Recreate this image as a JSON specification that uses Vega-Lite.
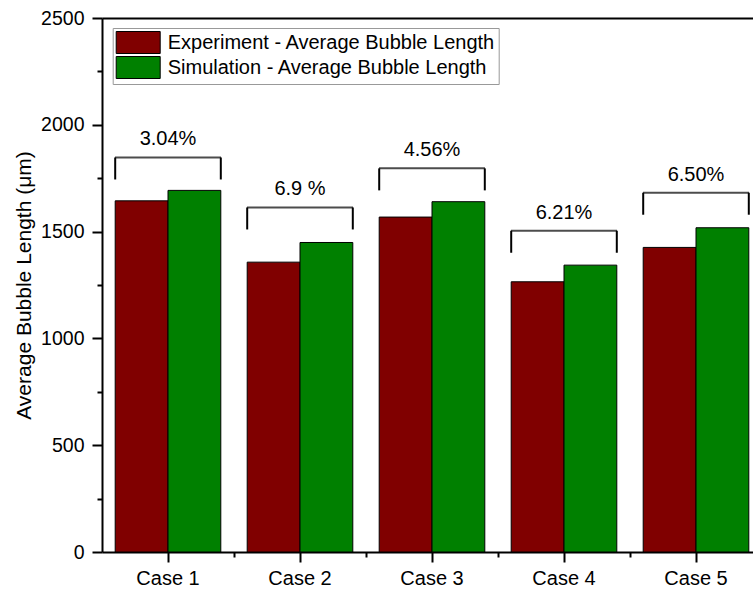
{
  "$schema": "https://vega.github.io/schema/vega-lite/v6.json",
  "width": 651,
  "height": 534,
  "autosize": {"type": "none"},
  "padding": {"left": 102, "top": 18, "right": 0, "bottom": 38},
  "config": {
    "font": "Liberation Sans",
    "view": {"stroke": null},
    "axis": {
      "domainColor": "black",
      "tickColor": "black",
      "labelColor": "black",
      "titleColor": "black",
      "domainWidth": 2,
      "tickWidth": 2,
      "grid": false
    }
  },
  "datasets": {
    "bars": [
      {"case": "Case 1", "series": "Experiment - Average Bubble Length", "length": 1644},
      {"case": "Case 1", "series": "Simulation - Average Bubble Length", "length": 1693},
      {"case": "Case 2", "series": "Experiment - Average Bubble Length", "length": 1357},
      {"case": "Case 2", "series": "Simulation - Average Bubble Length", "length": 1449},
      {"case": "Case 3", "series": "Experiment - Average Bubble Length", "length": 1568},
      {"case": "Case 3", "series": "Simulation - Average Bubble Length", "length": 1640},
      {"case": "Case 4", "series": "Experiment - Average Bubble Length", "length": 1265},
      {"case": "Case 4", "series": "Simulation - Average Bubble Length", "length": 1343},
      {"case": "Case 5", "series": "Experiment - Average Bubble Length", "length": 1426},
      {"case": "Case 5", "series": "Simulation - Average Bubble Length", "length": 1518}
    ],
    "brackets": [
      {"case": "Case 1", "level": 1847, "label": "3.04%"},
      {"case": "Case 2", "level": 1613, "label": "6.9 %"},
      {"case": "Case 3", "level": 1796, "label": "4.56%"},
      {"case": "Case 4", "level": 1504, "label": "6.21%"},
      {"case": "Case 5", "level": 1682, "label": "6.50%"}
    ]
  },
  "layer": [
    {
      "data": {"name": "bars"},
      "mark": {"type": "bar", "stroke": "black", "strokeWidth": 1},
      "encoding": {
        "x": {
          "field": "case",
          "type": "nominal",
          "scale": {"range": [0, 660], "paddingInner": 0.2, "paddingOuter": 0.1},
          "axis": {"orient": "bottom", "title": null, "labelAngle": 0, "tickSize": 10, "labelFontSize": 20, "labelPadding": 6}
        },
        "xOffset": {
          "field": "series",
          "type": "nominal",
          "scale": {"paddingInner": 0, "paddingOuter": 0}
        },
        "y": {
          "field": "length",
          "type": "quantitative",
          "scale": {"domain": [0, 2500], "nice": false},
          "axis": {
            "orient": "left",
            "values": [0, 500, 1000, 1500, 2000, 2500],
            "format": "d",
            "tickSize": 10,
            "labelFontSize": 19.5,
            "labelPadding": 8,
            "title": "Average Bubble Length (μm)",
            "titleFontSize": 21,
            "titleFontWeight": "normal",
            "titlePadding": 6
          }
        },
        "color": {
          "field": "series",
          "type": "nominal",
          "scale": {
            "domain": ["Experiment - Average Bubble Length", "Simulation - Average Bubble Length"],
            "range": ["#800000", "#008000"]
          },
          "legend": {
            "orient": "none",
            "legendX": 10.7,
            "legendY": 10,
            "title": null,
            "symbolType": "M-2,-1H2V1H-2Z",
            "symbolSize": 484,
            "symbolOffset": 11,
            "symbolStrokeColor": "black",
            "symbolStrokeWidth": 1,
            "labelFontSize": 20,
            "labelColor": "black",
            "labelOffset": 18,
            "labelLimit": 500,
            "rowPadding": -3,
            "strokeColor": "#999999",
            "fillColor": "white",
            "padding": 3
          }
        }
      }
    },
    {
      "data": {"name": "brackets"},
      "mark": {"type": "tick", "orient": "horizontal", "size": 106, "thickness": 2, "color": "black"},
      "encoding": {
        "x": {
          "field": "case",
          "type": "nominal",
          "axis": {"orient": "top", "title": null, "labels": false, "ticks": false, "domain": true}
        },
        "y": {
          "field": "level",
          "type": "quantitative",
          "axis": {"orient": "left", "title": null, "labels": false, "domain": false, "tickSize": 5, "values": [250, 750, 1250, 1750, 2250]}
        }
      }
    },
    {
      "data": {"name": "brackets"},
      "mark": {"type": "rule", "color": "black", "strokeWidth": 2, "xOffset": -52.8, "y2Offset": 22},
      "encoding": {
        "x": {
          "field": "case",
          "type": "nominal",
          "axis": {"orient": "bottom", "title": null, "labels": false, "domain": false, "tickSize": 5, "tickOffset": 66}
        },
        "y": {"field": "level", "type": "quantitative", "axis": null},
        "y2": {"field": "level"}
      }
    },
    {
      "data": {"name": "brackets"},
      "mark": {"type": "rule", "color": "black", "strokeWidth": 2, "xOffset": 52.8, "y2Offset": 22},
      "encoding": {
        "x": {"field": "case", "type": "nominal", "axis": null},
        "y": {"field": "level", "type": "quantitative", "axis": null},
        "y2": {"field": "level"}
      }
    },
    {
      "data": {"name": "brackets"},
      "mark": {"type": "text", "fontSize": 20, "color": "black", "baseline": "alphabetic", "dy": -12},
      "encoding": {
        "x": {"field": "case", "type": "nominal", "axis": null},
        "y": {"field": "level", "type": "quantitative", "axis": null},
        "text": {"field": "label"}
      }
    }
  ],
  "resolve": {"axis": {"x": "independent", "y": "independent"}}
}
